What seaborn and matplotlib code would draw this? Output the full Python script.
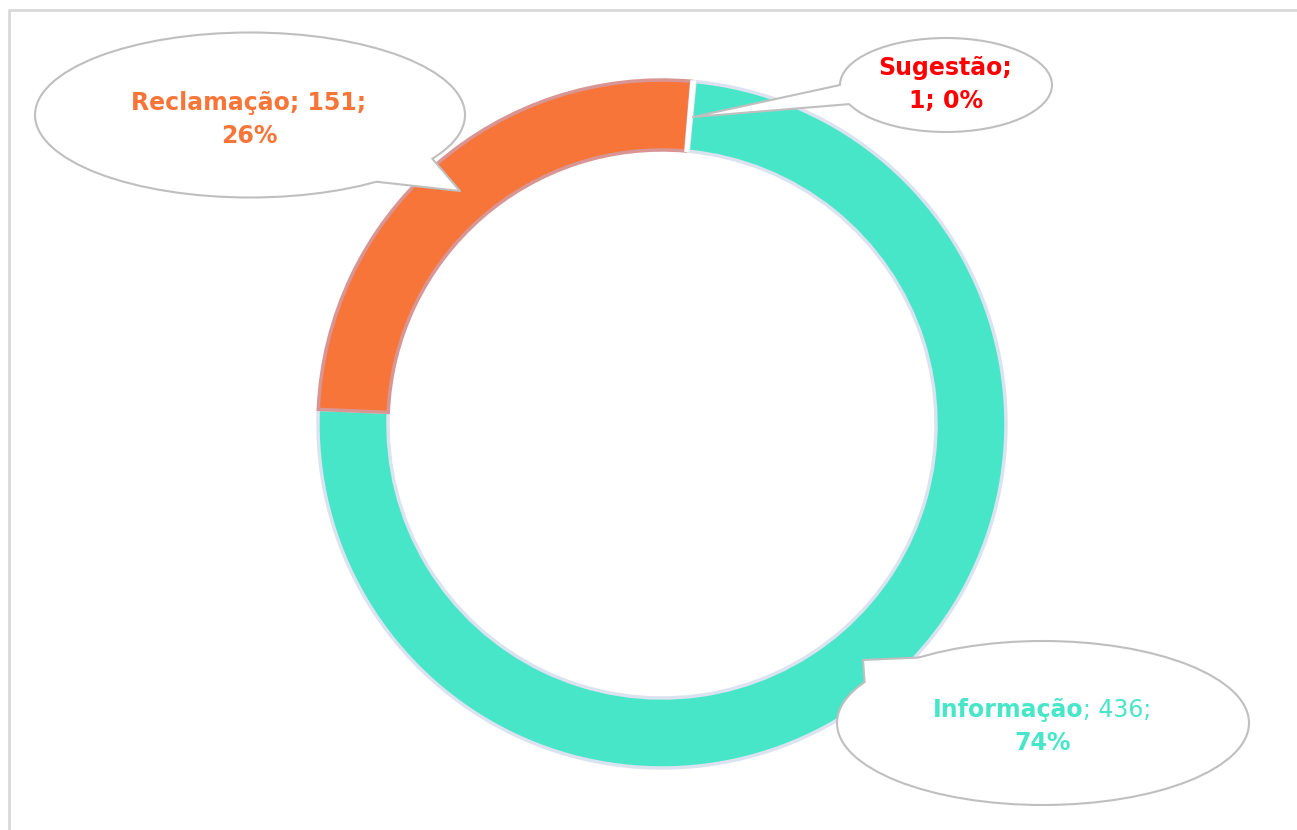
import matplotlib
matplotlib.use("Agg")
import matplotlib.pyplot as plt
import seaborn as sns
import numpy as np
from matplotlib.patches import Ellipse, Polygon
from matplotlib.lines import Line2D

categories = ["Informação", "Reclamação", "Sugestão"]
values = [436, 151, 1]
slice_colors = ["#48E6C8", "#F77538", "#FFFFFF"]
edge_colors = ["#DCE3F0", "#D99594", "#FFFFFF"]
label_colors = ["#48E6C8", "#F77538", "#FF0000"]

sns.set_theme(style="white")
plt.rcParams["font.family"] = ["DejaVu Sans"]

W, H = 1297, 830
fig = plt.figure(figsize=(W / 100, H / 100), dpi=100)
ax = fig.add_axes([0, 0, 1, 1])

def Y(y):
    return H - y

cx, cy, R, width = 662, 424, 344, 70
wedges, _ = ax.pie(values, colors=slice_colors, startangle=84.5, counterclock=False,
                   center=(cx, Y(cy)), radius=R, frame=True,
                   wedgeprops=dict(width=width, linewidth=2.5))
for w, ec in zip(wedges, edge_colors):
    w.set_edgecolor(ec)
wedges[2].set_linewidth(1.5)
ax.set_xlim(0, W)
ax.set_ylim(0, H)
ax.set_aspect("equal")
ax.axis("off")

# frame (left and top lines visible)
ax.add_line(Line2D([9, 9, W + 5], [Y(H + 5), Y(10), Y(10)], color="#D9D9D9", lw=2, zorder=1))

def bubble(center, w, h, a1, a2, tip):
    ex, ey = center
    e = Ellipse((ex, Y(ey)), w, h, facecolor="white", edgecolor="#BFBFBF", lw=1.5, zorder=5)
    ax.add_patch(e)
    pts = []
    for a in (a1, a2):
        t = np.deg2rad(a)
        pts.append((ex + w / 2 * np.cos(t), Y(ey) + h / 2 * np.sin(t)))
    tx, ty = tip[0], Y(tip[1])
    poly = Polygon([(ex, Y(ey)), pts[0], (tx, ty), pts[1]], closed=True,
                   facecolor="white", edgecolor="none", zorder=6)
    ax.add_patch(poly)
    ax.add_line(Line2D([pts[0][0], tx, pts[1][0]], [pts[0][1], ty, pts[1][1]],
                       color="#BFBFBF", lw=1.5, zorder=7))

total = sum(values)
pcts = [f"{round(v / total * 100)}%" for v in values]

fs = 17
bold = dict(fontsize=fs, fontweight="bold", zorder=8, va="baseline")

# Reclamação bubble
bubble((250, 115), 430, 165, -54, -32, (460, 191))
ax.text(249, Y(110), f"{categories[1]}; {values[1]};", ha="center", color=label_colors[1], **bold)
ax.text(249, Y(143), pcts[1], ha="center", color=label_colors[1], **bold)

# Sugestão bubble
bubble((946, 85), 212, 94, 180, 204, (693, 117))
ax.text(945, Y(75), f"{categories[2]};", ha="center", color=label_colors[2], **bold)
ax.text(946, Y(108), f"{values[2]}; {pcts[2]}", ha="center", color=label_colors[2], **bold)

# Informação bubble
bubble((1043, 723), 412, 164, 127, 150, (863, 660))
renderer = fig.canvas.get_renderer()
ta = ax.text(0, Y(717), categories[0], ha="left", color=label_colors[0], **bold)
tb = ax.text(0, Y(717), f"; {values[0]};", ha="left", color=label_colors[0],
             fontsize=fs, fontweight="normal", zorder=8, va="baseline")
wa = ta.get_window_extent(renderer).width
wb = tb.get_window_extent(renderer).width
x0 = 1042 - (wa + wb) / 2
ta.set_x(x0)
tb.set_x(x0 + wa)
ax.text(1043, Y(750), pcts[0], ha="center", color=label_colors[0], **bold)

fig.savefig("out.png", dpi=100)
